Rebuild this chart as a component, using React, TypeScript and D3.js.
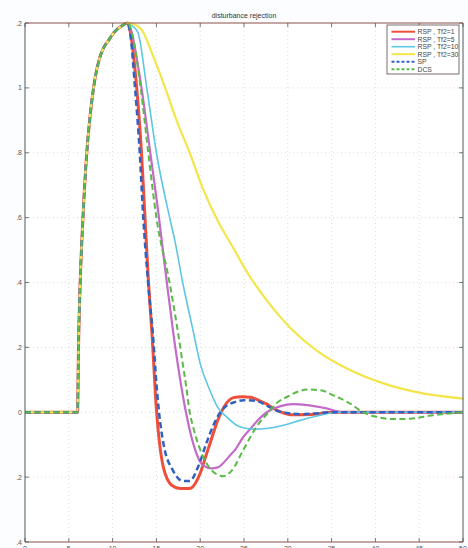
import React from "react";
import * as d3 from "d3";

// ---- data ----
const xTicks = [0, 5, 10, 15, 20, 25, 30, 35, 40, 45, 50];
const yTicks = [0.12, 0.1, 0.08, 0.06, 0.04, 0.02, 0, -0.02, -0.04];
const yTickLabels = [".2", "1", ".8", ".6", ".4", ".2", "0", ".2", ".4"];

// shared rise (all controllers identical until the peak)
const riseT = [0, 6, 6.1, 6.3, 6.6, 7, 7.5, 8, 8.5, 9, 9.5, 10, 10.5, 11, 11.7];
const riseV = [0, 0, 0.019, 0.04, 0.059, 0.078, 0.093, 0.103, 0.109, 0.1125, 0.1145, 0.1165, 0.118, 0.119, 0.12];

const redT = [12.1, 12.75, 13.3, 13.6, 14.1, 14.5, 15.0, 15.8, 16.75, 17.7, 18.8, 20.0, 20.7, 21.1, 22.0, 22.8, 23.8, 24.8, 25.7, 26.8, 27.6, 28.3, 29.1, 30.6, 32.5, 35, 40, 50];
const redV = [0.116, 0.1, 0.08, 0.065, 0.04, 0.024, 0.001, -0.017, -0.0225, -0.0235, -0.0235, -0.0188, -0.013, -0.0098, -0.0025, 0.002, 0.0045, 0.0048, 0.0046, 0.0035, 0.0025, 0.0013, 0.0002, -0.0008, -0.0007, 0, 0, 0];

const magT = [12.2, 12.7, 13.3, 14.3, 15.2, 16.1, 16.9, 17.6, 18.3, 19.2, 20.3, 21.3, 22.0, 23.4, 24.0, 24.9, 25.7, 26.4, 27.6, 29.1, 30.6, 32.2, 34.4, 36.3, 40, 50];
const magV = [0.117, 0.11, 0.1, 0.08, 0.062, 0.042, 0.025, 0.012, 0.001, -0.0096, -0.0163, -0.0173, -0.017, -0.0133, -0.0115, -0.0077, -0.0052, -0.003, 0, 0.0018, 0.0025, 0.0022, 0.0012, 0, 0, 0];

const cyanT = [12.3, 12.9, 13.9, 15.0, 16.6, 17.1, 18.0, 19.2, 20.0, 21.1, 22.0, 23.0, 24.5, 26.1, 27.6, 29.5, 31.4, 33.7, 36, 40, 50];
const cyanV = [0.119, 0.117, 0.1, 0.08, 0.059, 0.053, 0.04, 0.025, 0.015, 0.0068, 0.0015, -0.0014, -0.0045, -0.0052, -0.005, -0.004, -0.0025, -0.0009, 0, 0, 0];

const yellowT = [12.5, 13.3, 14.6, 16, 17.3, 18.8, 20.3, 22, 23.7, 25.7, 27.6, 30.3, 33.3, 37.1, 40.9, 44.7, 50];
const yellowV = [0.1195, 0.118, 0.11, 0.1, 0.09, 0.08, 0.069, 0.059, 0.051, 0.0417, 0.0345, 0.026, 0.019, 0.013, 0.0089, 0.0062, 0.0042];

const spT = [12.0, 12.56, 13.1, 13.5, 14.05, 14.6, 15.0, 15.3, 15.8, 16.9, 18.05, 18.8, 19.75, 20.7, 21.5, 22.3, 23.0, 23.8, 25, 26.4, 27.5, 28.7, 29.9, 31.4, 33, 35, 40, 50];
const spV = [0.117, 0.1, 0.08, 0.06, 0.04, 0.024, 0.009, 0, -0.0096, -0.018, -0.0212, -0.0212, -0.0169, -0.0096, -0.004, 0, 0.002, 0.003, 0.0037, 0.0035, 0.0022, 0.0005, -0.0002, -0.0006, -0.0004, 0, 0, 0];

const dcsT = [12.2, 13.2, 14.07, 15.0, 16.5, 17.5, 18.0, 18.4, 18.8, 19.2, 20.35, 21.7, 22.6, 23.6, 24.9, 26.4, 28, 28.7, 29.9, 31.4, 32.2, 33.7, 35.2, 37.1, 38.6, 40.1, 42, 43.9, 46.6, 50];
const dcsV = [0.117, 0.1, 0.08, 0.06, 0.04, 0.024, 0.015, 0.008, 0, -0.0046, -0.0138, -0.0188, -0.0197, -0.018, -0.0117, -0.0046, 0.0006, 0.0028, 0.0047, 0.0066, 0.007, 0.0068, 0.0052, 0.0027, 0, -0.0014, -0.0021, -0.002, -0.0009, 0];

const seriesNames = ["RSP , Tf2=1", "RSP , Tf2=5", "RSP , Tf2=10", "RSP , Tf2=30", "SP", "DCS"];
const seriesT = [redT, magT, cyanT, yellowT, spT, dcsT];
const seriesV = [redV, magV, cyanV, yellowV, spV, dcsV];

// ---- styles ----
const colors = ["#ef4f3a", "#c46ac8", "#5cc6e4", "#f3e54a", "#2f62c0", "#58bb46"];
const widths = [3, 2.2, 1.6, 2.2, 2.5, 2];
const dashes = [null, null, null, null, "6,3.5", "6,3.5"];

const W = 468;
const H = 548;
const L = 25, R = 463, T = 23, B = 542;

export default function App() {
  const x = d3.scaleLinear().domain([0, 50]).range([L, R]);
  const y = d3.scaleLinear().domain([-0.04, 0.12]).range([B, T]);
  const line = d3
    .line<[number, number]>()
    .x((d) => x(d[0]))
    .y((d) => y(d[1]))
    .curve(d3.curveMonotoneX);

  const seriesPts = seriesT.map((ts, i) => {
    const pts: [number, number][] = riseT.map((t, j) => [t, riseV[j]]);
    ts.forEach((t, j) => pts.push([t, seriesV[i][j]]));
    return pts;
  });

  const font = "Liberation Sans, Arial, sans-serif";
  const legX = 387, legY = 25, legW = 72, legH = 49;

  return (
    <svg
      width={W}
      height={H}
      style={{ position: "absolute", left: 0, top: 0, background: "#fcfdfe" }}
    >
      <rect x={L} y={T} width={R - L} height={B - T} fill="#ffffff" />
      {/* grid */}
      {xTicks.slice(1, -1).map((t) => (
        <line key={"gx" + t} x1={x(t)} x2={x(t)} y1={T} y2={B} stroke="#c9d6de" strokeWidth={0.8} strokeDasharray="1,3" />
      ))}
      {yTicks.slice(1, -1).map((t, i) => (
        <line key={"gy" + i} x1={L} x2={R} y1={y(t)} y2={y(t)} stroke="#c9d6de" strokeWidth={0.8} strokeDasharray="1,3" />
      ))}
      {/* ticks */}
      {xTicks.map((t) => (
        <g key={"tx" + t}>
          <line x1={x(t)} x2={x(t)} y1={B} y2={B - 4} stroke="#4a5a5a" strokeWidth={0.8} />
          <line x1={x(t)} x2={x(t)} y1={T} y2={T + 4} stroke="#4a5a5a" strokeWidth={0.8} />
          <text x={x(t)} y={551} fontSize={7} fontFamily={font} fill="#555" textAnchor="middle">
            {t}
          </text>
        </g>
      ))}
      {yTicks.map((t, i) => (
        <g key={"ty" + i}>
          <line x1={L} x2={L + 4} y1={y(t)} y2={y(t)} stroke="#4a5a5a" strokeWidth={0.8} />
          <line x1={R} x2={R - 4} y1={y(t)} y2={y(t)} stroke="#4a5a5a" strokeWidth={0.8} />
          <text x={22} y={y(t) + 2.5} fontSize={7} fontFamily={font} fill="#555" textAnchor="end">
            {yTickLabels[i]}
          </text>
        </g>
      ))}
      {/* series */}
      {seriesPts.map((pts, i) => (
        <path
          key={"s" + i}
          d={line(pts) || ""}
          fill="none"
          stroke={colors[i]}
          strokeWidth={widths[i]}
          strokeDasharray={dashes[i] || undefined}
          strokeLinejoin="round"
        />
      ))}
      {/* frame */}
      <line x1={L} x2={L} y1={T} y2={B} stroke="#4f5858" strokeWidth={1} />
      <line x1={R} x2={R} y1={T} y2={B} stroke="#4f5858" strokeWidth={1} />
      <line x1={L} x2={R} y1={T} y2={T} stroke="#8a5048" strokeWidth={1} />
      <line x1={L} x2={R} y1={B} y2={B} stroke="#8a5048" strokeWidth={1} />
      {/* title */}
      <text x={244} y={18} fontSize={7} fontFamily={font} fill="#333" textAnchor="middle">
        disturbance rejection
      </text>
      {/* legend */}
      <rect x={legX} y={legY} width={legW} height={legH} fill="#ffffff" stroke="#5a4a4a" strokeWidth={0.8} />
      {seriesNames.map((n, i) => {
        const ly = 31.7 + i * 7.5;
        return (
          <g key={"l" + i}>
            <line
              x1={391.5}
              x2={415}
              y1={ly}
              y2={ly}
              stroke={colors[i]}
              strokeWidth={Math.min(widths[i], 2)}
              strokeDasharray={dashes[i] ? "3,2" : undefined}
            />
            <text x={417.5} y={ly + 2.4} fontSize={6.8} fontFamily={font} fill="#444">
              {n}
            </text>
          </g>
        );
      })}
    </svg>
  );
}
